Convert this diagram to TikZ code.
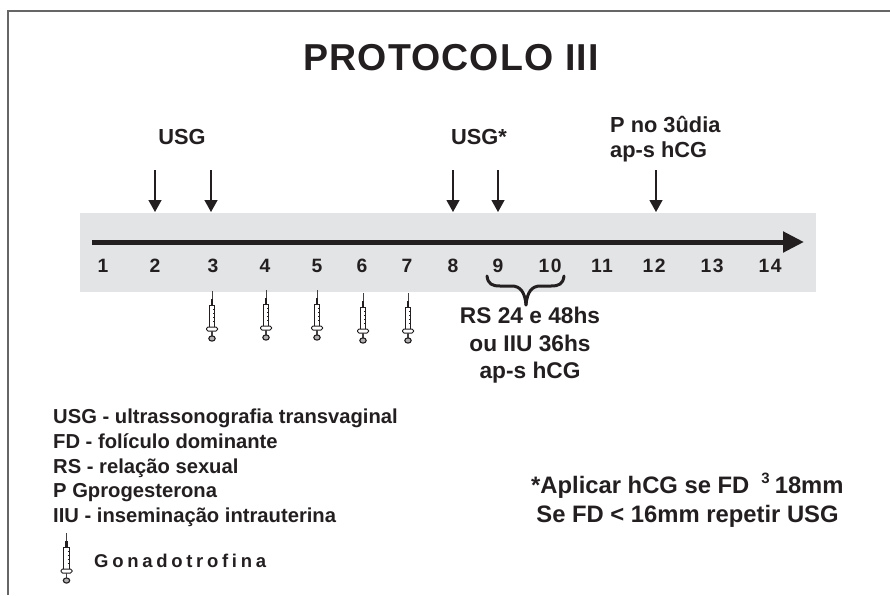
\documentclass[tikz,border=0pt]{standalone}
\usepackage{fontspec}
\setmainfont{Liberation Sans}
\usetikzlibrary{arrows.meta}
\definecolor{band}{HTML}{E3E4E6}
\definecolor{ink}{HTML}{231F20}
\tikzset{
  x=1pt,y=-1pt,
  txt/.style={font=\bfseries\fontsize{21.8}{26}\selectfont,text=ink,inner sep=0pt,anchor=base},
  titletxt/.style={txt,font=\bfseries\fontsize{37.5}{44}\selectfont\addfontfeature{LetterSpace=3}},
  daynum/.style={txt,font=\bfseries\fontsize{19.3}{22}\selectfont\addfontfeature{LetterSpace=8}},
  legend/.style={txt,anchor=base west,font=\bfseries\fontsize{20.2}{24}\selectfont},
  gona/.style={legend,font=\bfseries\fontsize{18.5}{22}\selectfont\addfontfeature{LetterSpace=20}},
  note/.style={txt,font=\bfseries\fontsize{23.8}{28}\selectfont},
  rstxt/.style={txt,font=\bfseries\fontsize{22.7}{26.5}\selectfont},
  downarrow/.style={draw=ink,line width=1.3pt,-{Triangle[width=13pt,length=12pt]},shorten >=0pt},
  syringe/.pic={
    \draw[ink!85,line width=.9pt] (0,0)--(0,8);
    \draw[ink,line width=2.2pt] (0,8)--(0,14);
    \draw[ink,line width=1pt,fill=white] (-2.8,14) rectangle (2.8,36);
    \draw[ink,line width=.5pt] (1,18)--(2.6,18) (1,22)--(2.6,22) (1,26)--(2.6,26) (1,30)--(2.6,30);
    \draw[ink,line width=1pt,fill=white,rounded corners=1.5pt] (-5.5,36) rectangle (5.5,40);
    \draw[ink!85,line width=1.8pt] (0,40)--(0,46);
    \draw[ink,line width=1.1pt,fill=ink!35] (0,47.5) ellipse (3.2 and 2.6);
  }
}
\begin{document}
\begin{tikzpicture}
\useasboundingbox (0,0) rectangle (890,595);
\draw[line width=1.3pt,draw=black!60] (8,595)--(8,11)--(890,11);
\fill[band] (80,213) rectangle (816,292);
\node[titletxt] (title) at (451,70) {PROTOCOLO III};
% axis
\coordinate (axisL) at (92,242);
\coordinate (axisR) at (804,242);
\draw[ink,line width=5pt,-{Triangle[width=20pt,length=21pt]}] (axisL)--(axisR);
% days
\foreach \n/\x in {1/103,2/155,3/213,4/265,5/317,6/362,7/407,8/453,9/498,10/550,11/602,12/654,13/712,14/770}
  \node[daynum] (d\n) at (\x,272) {\n};
% arrows
\foreach \n/\x in {a/155,b/211,c/453,d/498,e/656}{
  \coordinate (s\n) at (\x,170);
  \coordinate (t\n) at (\x,212);
  \draw[downarrow] (s\n)--(t\n);
}
\node[txt] (usga) at (182,144) {USG};
\node[txt] (usgb) at (479,144) {USG*};
\node[txt,anchor=base west] (pa) at (610,132) {P no 3ûdia};
\node[txt,anchor=base west] (pb) at (610,157) {ap-s hCG};
% brace
\draw[ink,line width=3pt,line cap=round] (487,276)
  .. controls (488,284) and (492,286) .. (500,286)
  -- (512,286) .. controls (520,286) and (525,292) .. (526,305);
\draw[ink,line width=3pt,line cap=round] (564,276)
  .. controls (563,284) and (559,286) .. (551,286)
  -- (540,286) .. controls (532,286) and (527,292) .. (526,305);
\node[rstxt] (rs1) at (530,323) {RS 24 e 48hs};
\node[rstxt] (rs2) at (530,351) {ou IIU 36hs};
\node[rstxt] (rs3) at (530,378) {ap-s hCG};
% syringes
\foreach \x/\y in {212/291,266/290,317/290,363/293,408/293}
  \pic at (\x,\y) {syringe};
\pic at (66.5,533) {syringe};
% legend
\node[legend] (l1) at (53,423) {USG - ultrassonografia transvaginal};
\node[legend] (l2) at (53,448) {FD - folículo dominante};
\node[legend] (l3) at (53,473) {RS - relação sexual};
\node[legend] (l4) at (53,497) {P Gprogesterona};
\node[legend] (l5) at (53,522) {IIU - inseminação intrauterina};
\node[gona] (l6) at (94,567) {Gonadotrofina};
% notes
\node[note,anchor=base west] (n1) at (531,493) {*Aplicar hCG se FD\hspace{12pt}\raisebox{10pt}{\fontsize{15}{15}\selectfont 3}\hspace{5pt}18mm};
\node[note] (n2) at (687.5,522) {Se FD < 16mm repetir USG};
\end{tikzpicture}
\end{document}
